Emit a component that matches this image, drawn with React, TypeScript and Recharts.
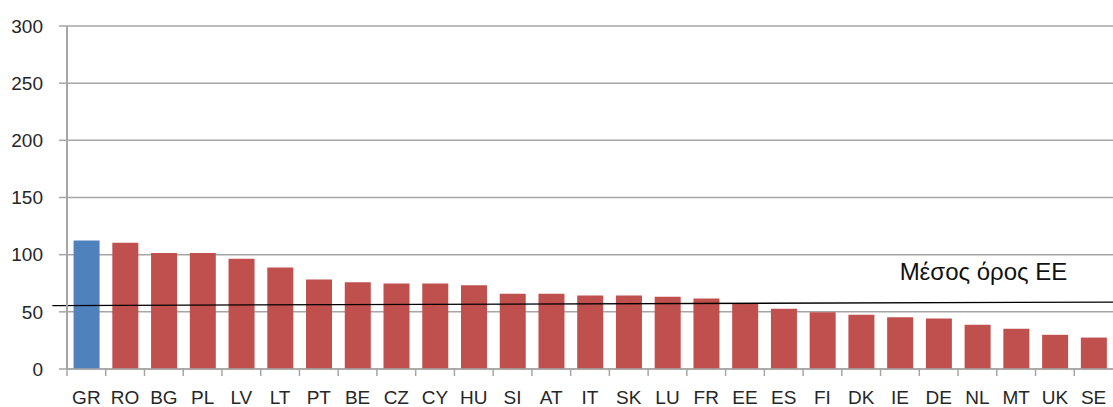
import React from "react";
import { BarChart, Bar, XAxis, YAxis, CartesianGrid, Cell, ReferenceLine } from "recharts";

/* Countries, ordered as in the source figure */
const COUNTRIES = [
  "GR", "RO", "BG", "PL", "LV", "LT", "PT", "BE", "CZ", "CY", "HU", "SI", "AT", "IT",
  "SK", "LU", "FR", "EE", "ES", "FI", "DK", "IE", "DE", "NL", "MT", "UK", "SE",
];

const VALUES = [
  112.5, 110.5, 101.5, 101.5, 96.5, 88.8, 78.3, 75.9, 74.8, 74.8, 73.3, 65.8, 65.8, 64.3,
  64.3, 63.2, 61.7, 57.1, 52.8, 49.6, 47.5, 45.2, 44.1, 38.8, 35.1, 29.9, 27.5,
];

const Y_TICKS = [0, 50, 100, 150, 200, 250, 300];

const HIGHLIGHT = "GR";
const AVG_LABEL = "Μέσος όρος ΕΕ";
// EU average line, value at the first and the last country
const AVG_FIRST = 55.5;
const AVG_LAST = 58.5;

const BLUE = "#4f81bd";
const RED = "#c0504d";
const GRID = "#a6a6a6";
const TEXT = "#262626";
const FONT = "'Liberation Sans', Arial, sans-serif";

const data = COUNTRIES.map((c, i) => ({ country: c, value: VALUES[i] }));

function CountryTick(props: any) {
  const { x, y, payload } = props;
  const half = payload && payload.offset ? payload.offset : 19.4;
  const axisY = y - 8;
  return (
    <g>
      <line x1={x - half} y1={axisY - 1} x2={x - half} y2={axisY + 7} stroke={GRID} strokeWidth={1.5} />
      <text x={x} y={axisY + 35} textAnchor="middle" fill={TEXT} fontSize={19} fontFamily={FONT}>
        {payload.value}
      </text>
    </g>
  );
}

function AverageLine(props: any) {
  const { x1, y1, x2, y2 } = props;
  const slope = (y2 - y1) / (x2 - x1);
  const left = x1 - 34;
  const right = x2 + 30;
  return (
    <g>
      <line
        x1={left}
        y1={y1 - slope * 34}
        x2={right}
        y2={y2 + slope * 30}
        stroke="#000"
        strokeWidth={1.3}
      />
      <text x={x2 - 194} y={y2 - 22} fill="#111" fontSize={24} fontFamily={FONT}>
        {AVG_LABEL}
      </text>
    </g>
  );
}

export default function App() {
  return (
    <div style={{ position: "absolute", left: 0, top: 0, background: "#fff" }}>
      <BarChart
        width={1113}
        height={407}
        data={data}
        margin={{ top: 26, right: 0, bottom: 0, left: 0 }}
        barCategoryGap="17%"
      >
        <CartesianGrid vertical={false} stroke={GRID} strokeWidth={1.5} />
        <XAxis
          dataKey="country"
          interval={0}
          height={38}
          tickLine={false}
          axisLine={{ stroke: GRID, strokeWidth: 1.5 }}
          tick={<CountryTick />}
        />
        <YAxis
          domain={[0, 300]}
          ticks={Y_TICKS}
          width={67}
          tickSize={8}
          tickMargin={16}
          tickLine={{ stroke: GRID, strokeWidth: 1.5 }}
          axisLine={{ stroke: GRID, strokeWidth: 2 }}
          tick={{ fill: TEXT, fontSize: 19, fontFamily: FONT }}
        />
        <Bar dataKey="value" isAnimationActive={false}>
          {data.map((d) => (
            <Cell key={d.country} fill={d.country === HIGHLIGHT ? BLUE : RED} />
          ))}
        </Bar>
        <ReferenceLine
          segment={[
            { x: COUNTRIES[0], y: AVG_FIRST },
            { x: COUNTRIES[COUNTRIES.length - 1], y: AVG_LAST },
          ]}
          shape={<AverageLine />}
        />
      </BarChart>
    </div>
  );
}
